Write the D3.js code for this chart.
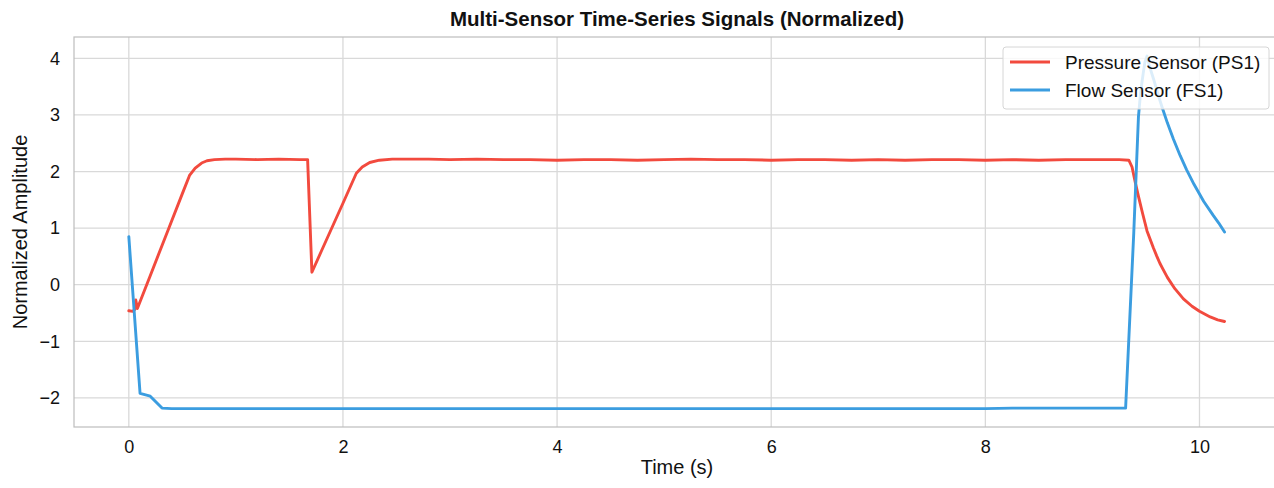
<!DOCTYPE html>
<html>
<head>
<meta charset="utf-8">
<script src="https://cdn.jsdelivr.net/npm/d3@7"></script>
<style>
  html, body { margin: 0; padding: 0; background: #fff; }
  svg { display: block; }
  text { font-family: "Liberation Sans", Arial, Helvetica, sans-serif; fill: #111; }
</style>
</head>
<body>
<svg id="chart" width="1274" height="488"></svg>
<script>
// ---- data ----
const seriesNames = ["Pressure Sensor (PS1)", "Flow Sensor (FS1)"];
const seriesColors = ["#f24a3e", "#3b9de0"];

// [time (s), normalized amplitude]
const pressureSeries = [
  [0, -0.46], [0.04, -0.47], [0.055, -0.44], [0.065, -0.27], [0.08, -0.42],
  [0.2, 0.16], [0.38, 1.03], [0.5, 1.61], [0.567, 1.93], [0.62, 2.06],
  [0.68, 2.15], [0.73, 2.19], [0.8, 2.21], [0.9, 2.22], [1.0, 2.22],
  [1.2, 2.21], [1.4, 2.22], [1.6, 2.21], [1.67, 2.21], [1.71, 0.22],
  [1.8, 0.60], [2.0, 1.44], [2.125, 1.97], [2.18, 2.08], [2.25, 2.16],
  [2.34, 2.20], [2.46, 2.22], [2.6, 2.22], [2.8, 2.22], [3.0, 2.21],
  [3.25, 2.22], [3.5, 2.21], [3.75, 2.21], [4.0, 2.20], [4.25, 2.21],
  [4.5, 2.21], [4.75, 2.20], [5.0, 2.21], [5.25, 2.22], [5.5, 2.21],
  [5.75, 2.21], [6.0, 2.20], [6.25, 2.21], [6.5, 2.21], [6.75, 2.20],
  [7.0, 2.21], [7.25, 2.20], [7.5, 2.21], [7.75, 2.21], [8.0, 2.20],
  [8.25, 2.21], [8.5, 2.20], [8.75, 2.21], [9.0, 2.21], [9.25, 2.21],
  [9.34, 2.20], [9.37, 2.08], [9.40, 1.81], [9.43, 1.56], [9.47, 1.25],
  [9.51, 0.95], [9.54, 0.80], [9.57, 0.65], [9.60, 0.51], [9.63, 0.38],
  [9.66, 0.27], [9.70, 0.13], [9.77, -0.07], [9.85, -0.25], [9.93, -0.38],
  [10.0, -0.47], [10.1, -0.57], [10.17, -0.62], [10.234, -0.65]
];

const flowSeries = [
  [0, 0.85], [0.105, -1.92], [0.2, -1.97], [0.31, -2.18], [0.4, -2.19],
  [1, -2.19], [2, -2.19], [3, -2.19], [4, -2.19], [5, -2.19],
  [6, -2.19], [7, -2.19], [8, -2.19], [8.25, -2.18], [9, -2.18],
  [9.31, -2.18], [9.386, 0.91], [9.43, 2.97], [9.45, 3.40], [9.474, 3.73],
  [9.49, 3.93], [9.51, 4.04], [9.53, 3.88], [9.57, 3.64], [9.61, 3.38],
  [9.65, 3.14], [9.70, 2.86], [9.757, 2.57], [9.82, 2.28], [9.88, 2.03],
  [9.95, 1.77], [10.04, 1.47], [10.13, 1.22], [10.18, 1.09], [10.234, 0.93]
];

const xTicks = [0, 2, 4, 6, 8, 10];
const yTicks = [-2, -1, 0, 1, 2, 3, 4];

const titleText = "Multi-Sensor Time-Series Signals (Normalized)";
const xLabel = "Time (s)";
const yLabel = "Normalized Amplitude";

// ---- layout ----
const svg = d3.select("#chart");
const plot = { left: 74, right: 1280, top: 37, bottom: 427 };

const x = d3.scaleLinear().domain([-0.512, 10.752]).range([plot.left, plot.right]);
const y = d3.scaleLinear().domain([-2.514, 4.377]).range([plot.bottom, plot.top]);

// grid
const grid = svg.append("g");
grid.selectAll("line.v").data(xTicks).enter().append("line")
  .attr("x1", d => x(d)).attr("x2", d => x(d))
  .attr("y1", plot.top).attr("y2", plot.bottom)
  .attr("stroke", "#d9d9d9").attr("stroke-width", 1.3);
grid.selectAll("line.h").data(yTicks).enter().append("line")
  .attr("x1", plot.left).attr("x2", plot.right)
  .attr("y1", d => y(d)).attr("y2", d => y(d))
  .attr("stroke", "#d9d9d9").attr("stroke-width", 1.3);

// frame
svg.append("rect")
  .attr("x", plot.left).attr("y", plot.top)
  .attr("width", plot.right - plot.left).attr("height", plot.bottom - plot.top)
  .attr("fill", "none").attr("stroke", "#bdbdbd").attr("stroke-width", 1.2);

// axes (labels only, no tick marks)
const fmt = d => (d < 0 ? "\u2212" + Math.abs(d) : String(d));
const xAxis = d3.axisBottom(x).tickValues(xTicks).tickSize(0).tickPadding(13).tickFormat(fmt);
const yAxis = d3.axisLeft(y).tickValues(yTicks).tickSize(0).tickPadding(14).tickFormat(fmt);

const gx = svg.append("g").attr("transform", `translate(0,${plot.bottom})`).call(xAxis);
const gy = svg.append("g").attr("transform", `translate(${plot.left},0)`).call(yAxis);
[gx, gy].forEach(g => {
  g.select(".domain").remove();
  g.selectAll("text")
    .style("font-family", '"Liberation Sans", Arial, sans-serif')
    .style("font-size", "18px").attr("fill", "#0a0a0a");
});

// lines
const line = d3.line().x(d => x(d[0])).y(d => y(d[1]));
[pressureSeries, flowSeries].forEach((s, i) => {
  svg.append("path").datum(s)
    .attr("d", line)
    .attr("fill", "none")
    .attr("stroke", seriesColors[i])
    .attr("stroke-width", 2.9)
    .attr("stroke-linejoin", "round")
    .attr("stroke-linecap", "round");
});

// title & axis labels
svg.append("text").attr("x", 677).attr("y", 26)
  .attr("text-anchor", "middle")
  .style("font-size", "20.5px").style("font-weight", "bold")
  .text(titleText);

svg.append("text").attr("x", 677).attr("y", 474)
  .attr("text-anchor", "middle")
  .style("font-size", "20px")
  .text(xLabel);

svg.append("text")
  .attr("transform", `translate(27,${(plot.top + plot.bottom) / 2}) rotate(-90)`)
  .attr("text-anchor", "middle")
  .style("font-size", "20px")
  .text(yLabel);

// legend
const lg = svg.append("g");
lg.append("rect")
  .attr("x", 1003).attr("y", 47).attr("width", 266).attr("height", 62)
  .attr("rx", 3).attr("ry", 3)
  .attr("fill", "#fff").attr("fill-opacity", 0.82)
  .attr("stroke", "#d6d6d6").attr("stroke-width", 1);
seriesNames.forEach((name, i) => {
  const cy = 62 + i * 28;
  lg.append("line")
    .attr("x1", 1010).attr("x2", 1050).attr("y1", cy).attr("y2", cy)
    .attr("stroke", seriesColors[i]).attr("stroke-width", 2.9);
  lg.append("text").attr("x", 1065).attr("y", cy + 6.5)
    .style("font-size", "19px")
    .text(name);
});
</script>
</body>
</html>
